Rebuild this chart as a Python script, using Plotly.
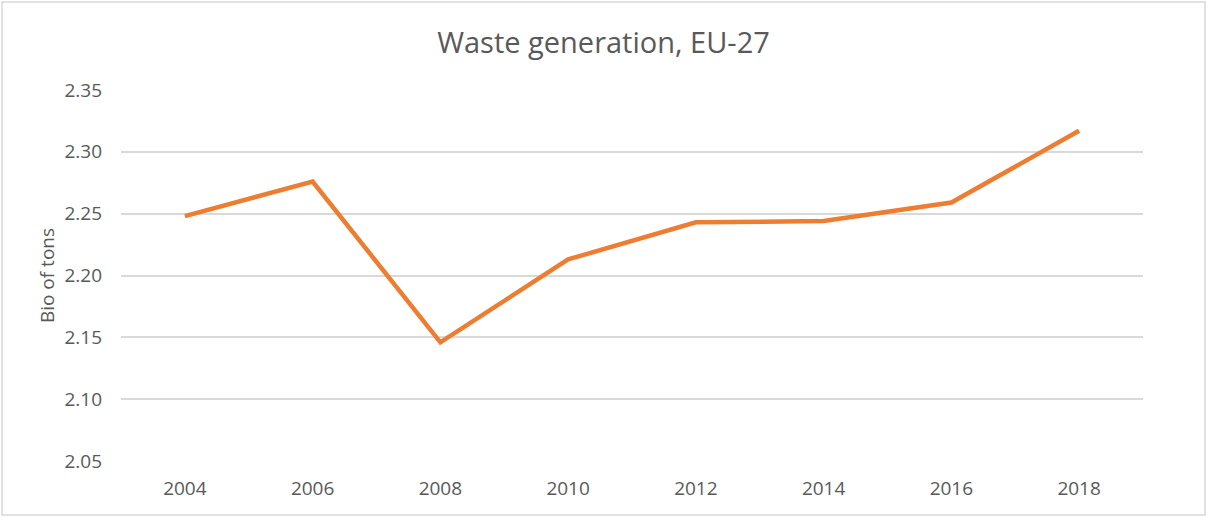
import plotly.graph_objects as go

years = ["2004", "2006", "2008", "2010", "2012", "2014", "2016", "2018"]
waste_bn_tons = [2.248, 2.276, 2.146, 2.213, 2.243, 2.244, 2.259, 2.317]
y_ticks = [2.05, 2.10, 2.15, 2.20, 2.25, 2.30, 2.35]

W, H = 1207, 517
ml, mr, mt, mb = 121, 64, 90, 56
pw, ph = W - ml - mr, H - mt - mb

text_col = "#595959"
grid_col = "#d9d9d9"
font_family = "Open Sans, Noto Sans, sans-serif"

fig = go.Figure()

fig.add_trace(
    go.Scatter(
        x=years,
        y=waste_bn_tons,
        mode="lines",
        line=dict(color="#ED7D31", width=4.5),
        showlegend=False
    )
)

# light outer frame of the chart
fig.add_shape(
    type="rect",
    xref="paper", yref="paper",
    x0=(2 - ml) / pw, x1=(1205 - ml) / pw,
    y0=(H - mb - 515) / ph, y1=(H - mb - 2) / ph,
    line=dict(color=grid_col, width=1.5),
    layer="below"
)

fig.update_layout(
    width=W,
    height=H,
    margin=dict(l=ml, r=mr, t=mt, b=mb),
    paper_bgcolor="white",
    plot_bgcolor="white",
    font=dict(family=font_family, color=text_col, size=19),
    title=dict(
        text="Waste generation, EU-27",
        x=0.5,
        xanchor="center",
        y=1 - 43 / H,
        yanchor="middle",
        font=dict(size=29, color=text_col)
    ),
    xaxis=dict(
        type="category",
        range=[-0.5, 7.5],
        showgrid=False,
        zeroline=False,
        showline=False,
        ticks="",
        ticklabelstandoff=14,
        tickfont=dict(size=19, color=text_col)
    ),
    yaxis=dict(
        range=[2.05, 2.35],
        tickvals=y_ticks,
        tickformat=".2f",
        showgrid=True,
        gridcolor=grid_col,
        gridwidth=1.5,
        zeroline=False,
        showline=False,
        ticks="",
        ticklabelstandoff=18,
        tickfont=dict(size=19, color=text_col),
        title=dict(text="Bio of tons", standoff=4, font=dict(size=19, color=text_col))
    )
)

fig.write_html(
    "out.html",
    config={"displayModeBar": False},
    post_script="document.body.style.margin='0';"
)
